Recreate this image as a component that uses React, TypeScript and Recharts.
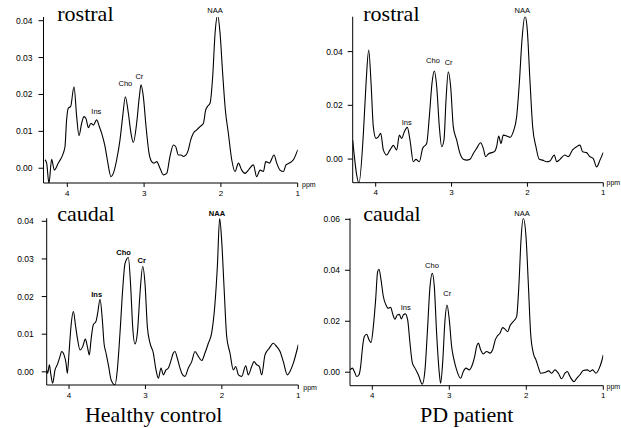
import React from 'react';
import { LineChart, Line, XAxis, YAxis, ReferenceDot } from 'recharts';

// ---------- data ----------
const peakNames = ['NAA', 'Cho', 'Cr', 'Ins'];
const xTicks = [4, 3, 2, 1];

// Healthy control, rostral
const hcRostralPpm = [4.291,4.269,4.239,4.204,4.169,4.117,4.052,4.030,4.009,3.987,3.957,3.913,3.878,3.848,3.813,3.783,3.757,3.726,3.692,3.661,3.618,3.583,3.553,3.509,3.479,3.431,3.401,3.357,3.314,3.279,3.244,3.205,3.171,3.140,3.097,3.062,3.040,3.010,2.975,2.936,2.901,2.871,2.836,2.793,2.749,2.706,2.663,2.619,2.589,2.554,2.519,2.489,2.454,2.424,2.393,2.359,2.315,2.272,2.228,2.198,2.176,2.142,2.107,2.076,2.042,2.011,1.977,1.942,1.903,1.859,1.816,1.772,1.729,1.686,1.642,1.577,1.534,1.490,1.447,1.416,1.369,1.308,1.273,1.230,1.186,1.152,1.108,1.056,1.000];
const hcRostralVal = [0.0023,0.0014,-0.0041,0.0024,-0.0005,0.0014,0.0041,0.0059,0.0131,0.0163,0.0167,0.0221,0.0140,0.0088,0.0122,0.0140,0.0135,0.0110,0.0122,0.0117,0.0131,0.0113,0.0095,0.0059,0.0023,-0.0023,-0.0014,0.0023,0.0077,0.0140,0.0194,0.0149,0.0095,0.0070,0.0122,0.0194,0.0226,0.0194,0.0113,0.0041,0.0018,0.0014,0.0018,0,-0.0018,-0.0014,0.0032,0.0063,0.0059,0.0036,0.0036,0.0032,0.0036,0.0050,0.0077,0.0095,0.0104,0.0113,0.0122,0.0158,0.0167,0.0176,0.0248,0.0366,0.0415,0.0366,0.0257,0.0158,0.0095,0.0023,-0.0009,0.0014,-0.0005,-0.0014,-0.0005,0.0009,-0.0023,-0.0005,-0.0009,0.0018,0.0014,0.0036,0.0014,-0.0005,-0.0009,0.0009,0.0014,0.0023,0.0050];
const hcRostralPeakPpm = [2.076, 3.244, 3.062, 3.622];
const hcRostralPeakVal = [0.0429, 0.0231, 0.0249, 0.0154];
const hcRostralYTicks = [0, 0.01, 0.02, 0.03, 0.04];

// PD patient, rostral
const pdRostralPpm = [4.303,4.220,4.162,4.127,4.092,4.061,4.031,3.996,3.965,3.934,3.899,3.855,3.811,3.767,3.723,3.688,3.657,3.622,3.583,3.548,3.504,3.469,3.425,3.381,3.328,3.293,3.258,3.227,3.196,3.161,3.130,3.100,3.073,3.043,3.012,2.977,2.933,2.889,2.845,2.801,2.757,2.713,2.669,2.617,2.582,2.551,2.516,2.472,2.437,2.406,2.379,2.349,2.318,2.274,2.230,2.186,2.142,2.107,2.072,2.032,2.002,1.967,1.931,1.888,1.844,1.800,1.747,1.703,1.646,1.615,1.571,1.506,1.462,1.405,1.353,1.308,1.273,1.220,1.185,1.132,1.088,1.044,1.000];
const pdRostralVal = [0.0071,-0.0088,0.0096,0.0282,0.0406,0.0282,0.0120,0.0077,0.0083,0.0096,0.0034,0.0015,0.0034,0.0051,0.0034,0.0089,0.0077,0.0102,0.0118,0.0071,-0.0010,-0.0001,-0.0010,0.0040,0.0058,0.0158,0.0282,0.0328,0.0270,0.0120,0.0046,0.0071,0.0220,0.0325,0.0270,0.0120,0.0071,0.0021,-0.0001,-0.0004,-0.0001,0.0021,0.0040,0.0061,0.0040,0.0009,0.0019,0.0024,0.0027,0.0046,0.0086,0.0058,0.0089,0.0086,0.0081,0.0102,0.0158,0.0282,0.0443,0.0533,0.0481,0.0294,0.0120,0.0046,-0.0001,-0.0004,-0.0010,-0.0007,0.0015,-0.0010,-0.0001,0.0015,0.0009,0.0034,0.0046,0.0052,0.0027,0.0024,0.0011,0.0002,-0.0029,-0.0004,0.0025];
const pdRostralPeakPpm = [2.068, 3.245, 3.038, 3.592];
const pdRostralPeakVal = [0.0554, 0.0368, 0.0360, 0.0138];
const pdRostralYTicks = [0, 0.02, 0.04];

// Healthy control, caudal
const hcCaudalPpm = [4.292,4.279,4.257,4.240,4.214,4.183,4.153,4.118,4.096,4.065,4.039,4.022,4.000,3.978,3.943,3.913,3.887,3.856,3.821,3.786,3.760,3.734,3.712,3.682,3.647,3.625,3.594,3.564,3.542,3.516,3.481,3.450,3.398,3.368,3.333,3.298,3.267,3.224,3.193,3.167,3.137,3.106,3.071,3.036,3.006,2.975,2.940,2.897,2.862,2.831,2.796,2.766,2.731,2.700,2.670,2.635,2.613,2.583,2.548,2.513,2.482,2.439,2.395,2.352,2.308,2.264,2.221,2.177,2.134,2.090,2.059,2.029,2.003,1.972,1.937,1.894,1.850,1.819,1.784,1.741,1.688,1.654,1.610,1.580,1.545,1.510,1.479,1.436,1.379,1.327,1.283,1.239,1.196,1.143,1.109,1.065,1.000];
const hcCaudalVal = [0.0005,-0.0004,0.0019,-0.0004,-0.0030,0.0005,0.0019,0.0041,0.0054,0.0045,0.0023,-0.0004,0.0050,0.0112,0.0160,0.0120,0.0085,0.0058,0.0067,0.0087,0.0067,0.0045,0.0085,0.0125,0.0134,0.0156,0.0193,0.0138,0.0076,0.0050,0.0014,-0.0021,-0.0035,0.0005,0.0103,0.0218,0.0288,0.0304,0.0227,0.0120,0.0074,0.0103,0.0209,0.0280,0.0235,0.0120,0.0076,0.0050,0.0005,-0.0017,0.0010,-0.0008,0.0005,0.0010,0.0027,0.0050,0.0054,0.0036,0.0010,-0.0008,-0.0012,0.0010,0.0027,0.0054,0.0041,0.0030,0.0050,0.0076,0.0103,0.0182,0.0280,0.0408,0.0350,0.0227,0.0094,0.0050,0.0005,0.0014,-0.0008,-0.0012,0.0016,-0.0008,0.0014,0.0027,0.0019,0.0014,-0.0008,0.0045,0.0063,0.0076,0.0067,0.0054,0.0027,-0.0008,0.0001,0.0023,0.0072];
const hcCaudalPeakPpm = [2.064, 3.285, 3.049, 3.638];
const hcCaudalPeakVal = [0.0420, 0.0318, 0.0296, 0.0205];
const hcCaudalYTicks = [0, 0.01, 0.02, 0.03, 0.04];

// PD patient, caudal
const pdCaudalPpm = [4.290,4.260,4.234,4.203,4.173,4.152,4.126,4.104,4.074,4.043,4.017,3.987,3.957,3.931,3.913,3.887,3.857,3.823,3.792,3.762,3.736,3.706,3.675,3.649,3.623,3.597,3.571,3.541,3.511,3.481,3.446,3.403,3.351,3.316,3.286,3.251,3.221,3.195,3.165,3.130,3.113,3.087,3.056,3.030,3.000,2.970,2.939,2.905,2.853,2.818,2.784,2.740,2.701,2.671,2.645,2.623,2.593,2.558,2.515,2.472,2.437,2.403,2.377,2.342,2.307,2.277,2.242,2.212,2.169,2.126,2.095,2.069,2.039,2.004,1.974,1.944,1.909,1.874,1.844,1.814,1.758,1.710,1.671,1.628,1.584,1.541,1.498,1.468,1.433,1.381,1.346,1.303,1.260,1.208,1.173,1.139,1.095,1.052,1.022,1.000];
const pdCaudalVal = [0.0009,0.0016,0.0003,-0.0017,-0.0010,0.0022,0.0101,0.0140,0.0149,0.0127,0.0116,0.0179,0.0284,0.0395,0.0404,0.0362,0.0297,0.0264,0.0251,0.0255,0.0229,0.0208,0.0225,0.0227,0.0209,0.0225,0.0229,0.0205,0.0114,0.0038,0.0016,-0.0010,-0.0047,0.0009,0.0153,0.0336,0.0388,0.0336,0.0153,-0.0004,-0.0043,0.0035,0.0205,0.0264,0.0205,0.0101,0.0048,0.0009,-0.0024,0.0003,0.0016,0.0009,0.0029,0.0061,0.0101,0.0114,0.0088,0.0072,0.0081,0.0075,0.0088,0.0127,0.0142,0.0153,0.0175,0.0169,0.0159,0.0182,0.0199,0.0218,0.0349,0.0519,0.0604,0.0532,0.0349,0.0153,0.0075,0.0048,0.0020,-0.0004,-0.0001,0.0005,-0.0004,0.0009,-0.0004,-0.0026,-0.0004,0.0003,-0.0017,-0.0037,-0.0024,-0.0010,0.0007,0.0009,0.0003,0.0009,-0.0004,0.0016,0.0042,0.0068];
const pdCaudalPeakPpm = [2.056, 3.225, 3.026, 3.567];
const pdCaudalPeakVal = [0.0625, 0.0420, 0.0308, 0.0254];
const pdCaudalYTicks = [0, 0.02, 0.04, 0.06];

// ---------- drawing ----------
const SANS = '"Liberation Sans", Arial, Helvetica, sans-serif';
const SERIF = '"Liberation Serif", "Times New Roman", Times, serif';

type PanelProps = {
  ppm: number[];
  val: number[];
  peakPpm: number[];
  peakVal: number[];
  yTicks: number[];
  xLeft: number;
  yDomain: [number, number];
  left: number;
  top: number;
  width: number;
  height: number;
  yAxisWidth: number;
  margin: { top: number; right: number; bottom: number; left: number };
  yTickMargin: number;
  boldPeaks?: boolean;
};

function Panel(p: PanelProps) {
  const data = p.ppm.map((x, i) => ({ ppm: x, v: p.val[i] }));
  return (
    <div style={{ position: 'absolute', left: p.left, top: p.top }}>
      <LineChart width={p.width} height={p.height} data={data} margin={p.margin}>
        <XAxis
          dataKey="ppm"
          type="number"
          domain={[1, p.xLeft]}
          reversed
          allowDataOverflow
          ticks={xTicks}
          height={15}
          tickSize={4}
          tickMargin={3}
          stroke="#000"
          tick={{ fontSize: 8, fill: '#000', fontFamily: SANS }}
          tickFormatter={(v: number) => String(v)}
        />
        <YAxis
          type="number"
          domain={p.yDomain}
          allowDataOverflow
          ticks={p.yTicks}
          width={p.yAxisWidth}
          tickSize={5}
          tickMargin={p.yTickMargin}
          stroke="#000"
          tick={{ fontSize: 8.5, fill: '#000', fontFamily: SANS }}
          tickFormatter={(v: number) => v.toFixed(2)}
        />
        <Line
          type="monotone"
          dataKey="v"
          stroke="#000"
          strokeWidth={1.1}
          dot={false}
          isAnimationActive={false}
        />
        {peakNames.map((name, i) => (
          <ReferenceDot
            key={name}
            x={p.peakPpm[i]}
            y={p.peakVal[i]}
            r={1}
            fill="none"
            stroke="none"
            ifOverflow="visible"
            label={{
              value: name,
              position: 'center',
              fontSize: 7.5,
              fill: '#000',
              fontFamily: SANS,
              fontWeight: p.boldPeaks ? 'bold' : 'normal',
            }}
          />
        ))}
      </LineChart>
    </div>
  );
}

export default function App() {
  return (
    <div style={{ position: 'absolute', left: 0, top: 0, width: 621, height: 428, background: '#fff', overflow: 'hidden' }}>
      <Panel
        ppm={hcRostralPpm} val={hcRostralVal} peakPpm={hcRostralPeakPpm} peakVal={hcRostralPeakVal}
        yTicks={hcRostralYTicks} xLeft={4.31} yDomain={[-0.004, 0.041]}
        left={0} top={0} width={310} height={200} yAxisWidth={43.5}
        margin={{ top: 17, right: 12.3, bottom: 2, left: 0 }} yTickMargin={6}
      />
      <Panel
        ppm={pdRostralPpm} val={pdRostralVal} peakPpm={pdRostralPeakPpm} peakVal={pdRostralPeakVal}
        yTicks={pdRostralYTicks} xLeft={4.303} yDomain={[-0.0088, 0.053]}
        left={310} top={0} width={311} height={200} yAxisWidth={42.7}
        margin={{ top: 16.7, right: 17.7, bottom: 2.3, left: 0 }} yTickMargin={5}
      />
      <Panel
        ppm={hcCaudalPpm} val={hcCaudalVal} peakPpm={hcCaudalPeakPpm} peakVal={hcCaudalPeakVal}
        yTicks={hcCaudalYTicks} xLeft={4.292} yDomain={[-0.0035, 0.0408]}
        left={0} top={200} width={310} height={228} yAxisWidth={46.7}
        margin={{ top: 18.3, right: 11.7, bottom: 28, left: 0 }} yTickMargin={8} boldPeaks
      />
      <Panel
        ppm={pdCaudalPpm} val={pdCaudalVal} peakPpm={pdCaudalPeakPpm} peakVal={pdCaudalPeakVal}
        yTicks={pdCaudalYTicks} xLeft={4.29} yDomain={[-0.0053, 0.0604]}
        left={310} top={200} width={311} height={228} yAxisWidth={40}
        margin={{ top: 18.3, right: 17.7, bottom: 27.3, left: 0 }} yTickMargin={5}
      />
      <svg width={621} height={428} style={{ position: 'absolute', left: 0, top: 0, pointerEvents: 'none' }}>
        <g fontFamily={SERIF} fontSize={22} fill="#000">
          <text x={57.3} y={21}>rostral</text>
          <text x={363.3} y={21}>rostral</text>
          <text x={57.3} y={221}>caudal</text>
          <text x={363.3} y={221}>caudal</text>
          <text x={153.7} y={421.5} textAnchor="middle">Healthy control</text>
          <text x={466.7} y={421.5} textAnchor="middle">PD patient</text>
        </g>
        <g fontFamily={SANS} fontSize={7} fill="#000">
          <text x={302} y={187}>ppm</text>
          <text x={606.5} y={185}>ppm</text>
          <text x={303.3} y={390}>ppm</text>
          <text x={606.5} y={389}>ppm</text>
        </g>
      </svg>
    </div>
  );
}
